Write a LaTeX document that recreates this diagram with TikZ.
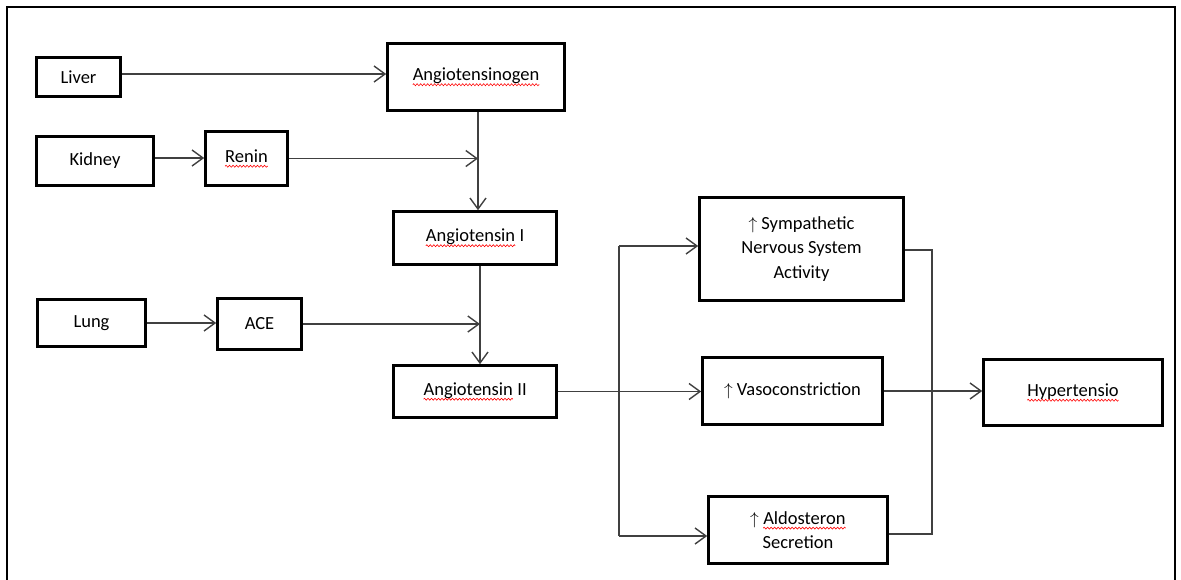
\documentclass[tikz,border=0pt]{standalone}
\usepackage{fontspec}
\setmainfont{Carlito}
\usetikzlibrary{arrows.meta,decorations.pathmorphing}
\newcommand\redwave[1]{\tikz[baseline=(wv.base)]{\node[inner sep=0pt,outer sep=0pt,minimum size=0pt,draw=none,anchor=base] (wv) at (0,0) {#1};
  \draw[red,line width=0.6pt,decorate,decoration={zigzag,amplitude=1pt,segment length=3.5pt}] ([yshift=-4pt]wv.base west) -- ([yshift=-4pt]wv.base east);}}
\definecolor{conncol}{RGB}{64,64,64}
\tikzset{
  box/.style={draw=black, line width=2.6pt, inner sep=0pt, align=center,
    font=\fontsize{18.5}{24.5}\selectfont},
  conn/.style={draw=conncol, line width=1.4pt},
  arr/.style={conn, -{Straight Barb[length=11pt,width=16pt,line width=1.4pt]}}
}
\begin{document}
\begin{tikzpicture}[x=1pt,y=-1pt]
\useasboundingbox (0,0) rectangle (1181,579);
\draw[line width=2pt] (7,590) -- (7,7) -- (1175,7) -- (1175,590);

\node[box, minimum width=84pt,  minimum height=39pt] (liver)  at (78.5,77)   {Liver};
\node[box, minimum width=177pt, minimum height=67pt] (angen)  at (476,77)    {\redwave{Angiotensinogen}};
\node[box, minimum width=117pt, minimum height=49pt] (kidney) at (95,161)    {Kidney};
\node[box, minimum width=82pt,  minimum height=54pt] (renin)  at (246.5,158.5) {\redwave{Renin}};
\node[box, minimum width=163pt, minimum height=53pt] (ang1)   at (475,238)   {\redwave{Angiotensin} I};
\node[box, minimum width=108pt, minimum height=47pt] (lung)   at (91.5,323)  {Lung};
\node[box, minimum width=84pt,  minimum height=51pt] (ace)    at (259.5,324) {ACE};
\node[box, minimum width=163pt, minimum height=52pt] (ang2)   at (475,391.5) {\redwave{Angiotensin} II};
\node[box, minimum width=204pt, minimum height=103pt] (symp)  at (801.5,249) {$\uparrow$ Sympathetic\\Nervous System\\Activity};
\node[box, minimum width=180pt, minimum height=67pt] (vaso)   at (792.5,391) {$\uparrow$ Vasoconstriction};
\node[box, minimum width=179pt, minimum height=67pt] (aldo)   at (798,530)   {$\uparrow$ \redwave{Aldosteron}\\Secretion};
\node[box, minimum width=179pt, minimum height=66pt] (hyp)    at (1073,392.5) {\redwave{Hypertensio}};

\coordinate (vx1) at (478,0);
\coordinate (vx2) at (480,0);
\draw[arr] ([yshift=3pt]liver.east) -- ([yshift=3pt]liver.east -| angen.west);
\draw[arr] ([yshift=3pt]kidney.east) -- ([yshift=3pt]kidney.east -| renin.west);
\draw[arr] (angen.south -| vx1) -- (ang1.north -| vx1);
\draw[arr] (renin.east) -- (renin.east -| vx1);
\draw[arr] (ang1.south -| vx2) -- (ang2.north -| vx2);
\draw[arr] (lung.east) -- (lung.east -| ace.west);
\draw[arr] (ace.east) -- (ace.east -| vx2);
\draw[arr] (ang2.east) -- (ang2.east -| vaso.west);

\coordinate (bt) at (619,246);
\coordinate (bb) at (619,536);
\draw[conn] (bt) -- (bb);
\draw[arr] (bt) -- (bt -| symp.west);
\draw[arr] (bb) -- (bb -| aldo.west);

\coordinate (rt) at (932,250);
\coordinate (rb) at (932,534);
\draw[conn] (rt -| symp.east) -- (rt) -- (rb) -- (rb -| aldo.east);
\draw[arr] (vaso.east) -- (vaso.east -| hyp.west);
\end{tikzpicture}
\end{document}
